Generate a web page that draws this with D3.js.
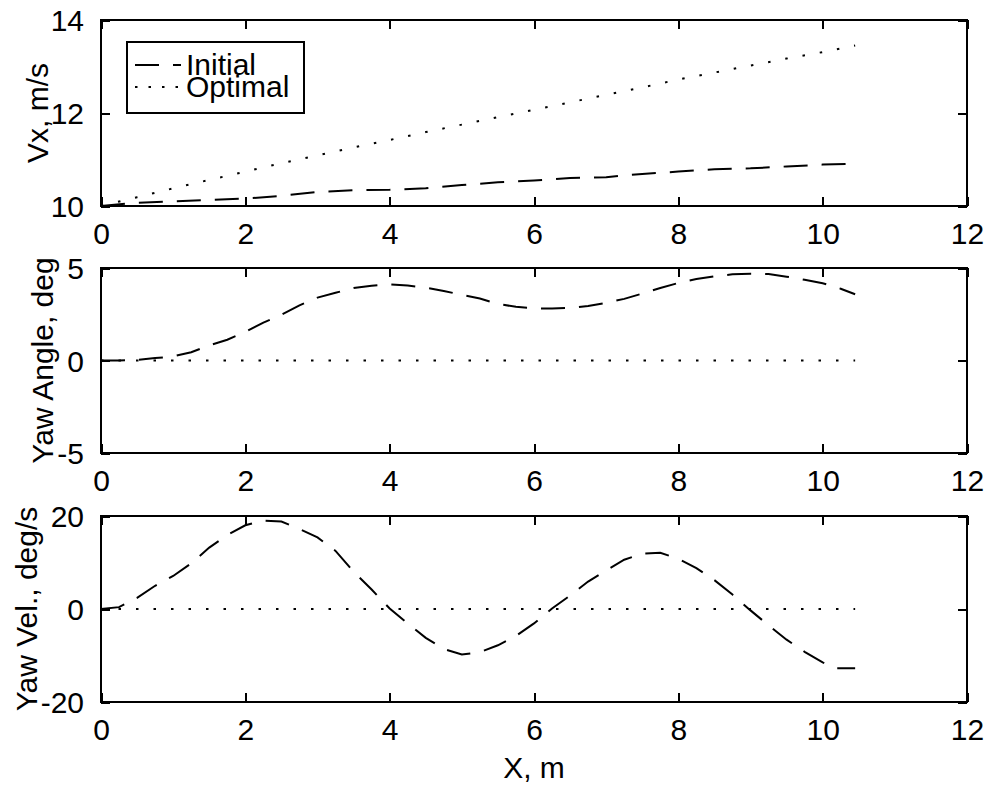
<!DOCTYPE html>
<html>
<head>
<meta charset="utf-8">
<script src="https://cdn.jsdelivr.net/npm/d3@7"></script>
<style>
  html, body { margin: 0; padding: 0; background: #fff; }
  svg { display: block; }
  text { font-family: "Liberation Sans", Arial, sans-serif; fill: #000; }
</style>
</head>
<body>
<svg id="chart" width="989" height="786"></svg>
<script>
// ---------- data ----------
const xTicks = [0, 2, 4, 6, 8, 10, 12];

const vxX = [0, 0.5, 1, 1.5, 2, 2.5, 3, 3.5, 4, 4.5, 5, 5.5, 6, 6.5, 7, 7.5, 8, 8.5, 9, 9.5, 10, 10.45];
const vxInitial = [10.0, 10.07, 10.10, 10.13, 10.16, 10.22, 10.30, 10.34, 10.35, 10.38, 10.45, 10.51, 10.55, 10.60, 10.62, 10.69, 10.74, 10.79, 10.81, 10.85, 10.89, 10.91];
const vxOptimal = [10.0, 10.19, 10.38, 10.56, 10.74, 10.92, 11.09, 11.26, 11.42, 11.59, 11.75, 11.91, 12.07, 12.23, 12.39, 12.55, 12.72, 12.87, 13.02, 13.17, 13.31, 13.45];
const vxTicks = [10, 12, 14];

const yawX = [0, 0.25, 0.5, 0.75, 1, 1.25, 1.5, 1.75, 2, 2.25, 2.5, 2.75, 3, 3.25, 3.5, 3.75, 4, 4.25, 4.5, 4.75, 5, 5.25, 5.5, 5.75, 6, 6.25, 6.5, 6.75, 7, 7.25, 7.5, 7.75, 8, 8.25, 8.5, 8.75, 9, 9.25, 9.5, 9.75, 10, 10.25, 10.45];
const yawInitial = [0, 0.0, 0.03, 0.13, 0.22, 0.45, 0.82, 1.12, 1.55, 2.05, 2.47, 2.98, 3.40, 3.66, 3.92, 4.04, 4.12, 4.05, 3.94, 3.76, 3.55, 3.35, 3.06, 2.90, 2.82, 2.81, 2.84, 2.95, 3.12, 3.33, 3.62, 3.92, 4.19, 4.40, 4.55, 4.66, 4.69, 4.67, 4.53, 4.36, 4.18, 3.88, 3.58];
const yawOptX = [0, 10.45];
const yawOptimal = [0, 0];
const yawTicks = [-5, 0, 5];

const velX = [0, 0.25, 0.5, 0.75, 1, 1.25, 1.5, 1.75, 2, 2.25, 2.5, 2.75, 3, 3.25, 3.5, 3.75, 4, 4.25, 4.5, 4.75, 5, 5.25, 5.5, 5.75, 6, 6.25, 6.5, 6.75, 7, 7.25, 7.5, 7.75, 8, 8.25, 8.5, 8.75, 9, 9.25, 9.5, 9.75, 10, 10.2, 10.45];
const velInitial = [0, 0.4, 2.4, 5.0, 7.1, 9.8, 13.2, 15.9, 18.0, 19.0, 18.8, 17.2, 15.4, 12.5, 8.0, 4.2, 0.1, -3.1, -6.2, -8.6, -9.8, -9.3, -7.8, -5.8, -3.1, 0.1, 2.9, 5.9, 8.3, 10.6, 11.9, 12.1, 10.8, 8.8, 6.2, 3.1, -0.3, -3.5, -6.6, -9.2, -11.5, -12.75, -12.75];
const velOptX = [0, 10.45];
const velOptimal = [0, 0];
const velTicks = [-20, 0, 20];

const legendLabels = ["Initial", "Optimal"];
const yLabels = ["Vx, m/s", "Yaw Angle, deg", "Yaw Vel., deg/s"];
const xLabel = "X, m";

// ---------- layout ----------
const svg = d3.select("#chart");
const left = 101, right = 967;
const FS = 30;
const DASH = "24,14";
const DOT = "2.5,15";
const fmt = d => String(d);

const panels = [
  { top: 20, bottom: 206, domain: [10, 14], ticks: vxTicks, label: yLabels[0], labelX: 48,
    series: [ {x: vxX, y: vxInitial, dash: DASH}, {x: vxX, y: vxOptimal, dash: DOT} ] },
  { top: 268, bottom: 453, domain: [-5, 5], ticks: yawTicks, label: yLabels[1], labelX: 53,
    series: [ {x: yawX, y: yawInitial, dash: DASH}, {x: yawOptX, y: yawOptimal, dash: DOT} ] },
  { top: 516, bottom: 702, domain: [-20, 20], ticks: velTicks, label: yLabels[2], labelX: 37,
    series: [ {x: velX, y: velInitial, dash: DASH}, {x: velOptX, y: velOptimal, dash: DOT} ] }
];

const x = d3.scaleLinear().domain([0, 12]).range([left, right]);

panels.forEach((p, i) => {
  const y = d3.scaleLinear().domain(p.domain).range([p.bottom, p.top]);
  const g = svg.append("g");

  // lines
  p.series.forEach(s => {
    const pts = s.x.map((d, k) => [d, s.y[k]]);
    g.append("path")
      .datum(pts)
      .attr("fill", "none")
      .attr("stroke", "#000")
      .attr("stroke-width", 2)
      .attr("stroke-dasharray", s.dash)
      .attr("d", d3.line().x(d => x(d[0])).y(d => y(d[1])));
  });

  // axes (inward ticks, mirrored)
  const tl = 9;
  const xb = g.append("g").attr("transform", `translate(0,${p.bottom})`)
    .call(d3.axisBottom(x).tickValues(xTicks).tickSize(-tl).tickPadding(tl + 6).tickFormat(fmt));
  const xt = g.append("g").attr("transform", `translate(0,${p.top})`)
    .call(d3.axisTop(x).tickValues(xTicks).tickSize(-tl).tickFormat(""));
  const yl = g.append("g").attr("transform", `translate(${left},0)`)
    .call(d3.axisLeft(y).tickValues(p.ticks).tickSize(-tl).tickPadding(tl + 8).tickFormat(fmt));
  const yr = g.append("g").attr("transform", `translate(${right},0)`)
    .call(d3.axisRight(y).tickValues(p.ticks).tickSize(-tl).tickFormat(""));

  [xb, xt, yl, yr].forEach(a => {
    a.select(".domain").remove();
    a.selectAll("line").attr("stroke", "#000").attr("stroke-width", 2).attr("shape-rendering", "crispEdges");
    a.selectAll("text").attr("font-size", FS).attr("font-family", "Liberation Sans, Arial, sans-serif").attr("fill", "#000");
  });
  xb.selectAll("text").attr("dy", null).attr("y", 38).attr("dominant-baseline", "auto");
  yl.selectAll("text").attr("dy", "0.36em");

  // box
  g.append("rect")
    .attr("x", left).attr("y", p.top)
    .attr("width", right - left).attr("height", p.bottom - p.top)
    .attr("fill", "none").attr("stroke", "#000").attr("stroke-width", 2.5)
    .attr("shape-rendering", "crispEdges");

  // y label
  svg.append("text")
    .attr("transform", `translate(${p.labelX},${(p.top + p.bottom) / 2}) rotate(-90)`)
    .attr("text-anchor", "middle")
    .attr("font-size", FS)
    .text(p.label);
});

// x label
svg.append("text")
  .attr("x", (left + right) / 2).attr("y", 778)
  .attr("text-anchor", "middle")
  .attr("font-size", FS)
  .text(xLabel);

// legend
const lg = svg.append("g");
lg.append("rect").attr("x", 127).attr("y", 42).attr("width", 177).attr("height", 71)
  .attr("fill", "#fff").attr("stroke", "#000").attr("stroke-width", 2.5).attr("shape-rendering", "crispEdges");
const legY = [65, 87];
const legDash = [DASH, "2.5,11"];
legendLabels.forEach((lab, i) => {
  lg.append("line").attr("x1", 135).attr("x2", 181).attr("y1", legY[i]).attr("y2", legY[i])
    .attr("stroke", "#000").attr("stroke-width", 2).attr("stroke-dasharray", legDash[i]);
  lg.append("text").attr("x", 186).attr("y", [75, 97][i]).attr("font-size", FS).text(lab);
});
</script>
</body>
</html>
